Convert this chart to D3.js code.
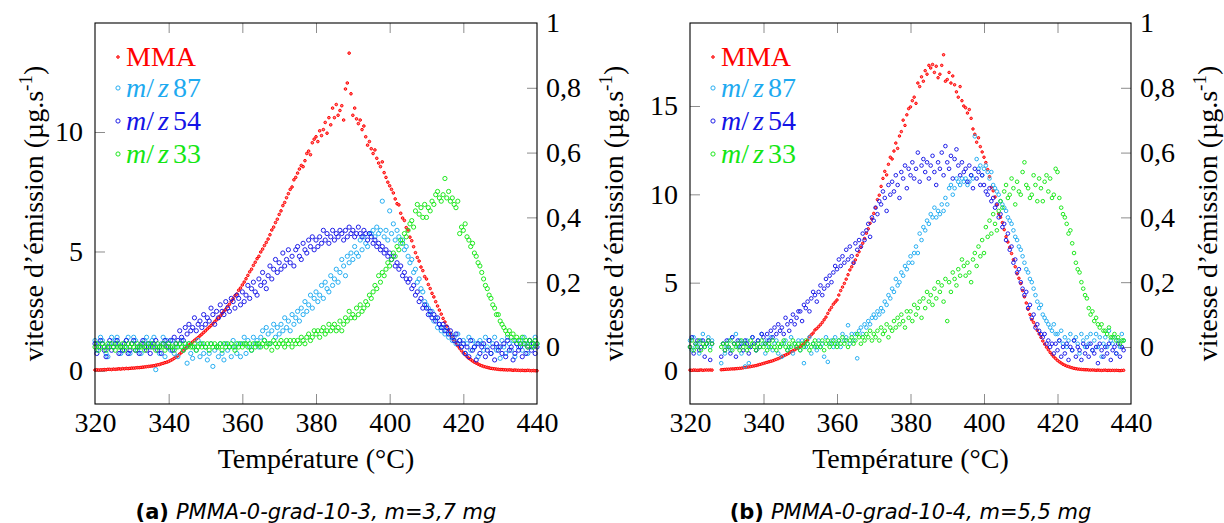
<!DOCTYPE html>
<html><head><meta charset="utf-8">
<script src="https://cdn.jsdelivr.net/npm/d3@7"></script>
<style>body{margin:0;background:#fff} svg{display:block}</style>
</head><body>
<svg id="c" width="1224" height="523"></svg>
<script>
// ---------- data ----------
const xTicks = [320,340,360,380,400,420,440];
const rightTicks = [0,0.2,0.4,0.6,0.8,1];
const rightTickLabels = ["0","0,2","0,4","0,6","0,8","1"];
const leftTicksA = [0,5,10];
const leftTicksB = [0,5,10,15];
const legendLabels = ["MMA","87","54","33"];
const captions = [["(a)","PMMA-0-grad-10-3, m=3,7 mg"],["(b)","PMMA-0-grad-10-4, m=5,5 mg"]];
const tStart = 320, tStep = 0.5;

// panel (a), left axis (µg/s)
const mmaA = [
0.04,0.05,0.04,0.05,0.05,0.06,0.05,0.07,0.07,0.06,
0.08,0.07,0.08,0.09,0.08,0.10,0.09,0.11,0.10,0.11,
0.12,0.12,0.13,0.14,0.14,0.15,0.16,0.17,0.18,0.19,
0.20,0.21,0.22,0.24,0.26,0.27,0.30,0.32,0.35,0.37,
0.40,0.44,0.48,0.53,0.58,0.64,0.71,0.78,0.85,0.93,
1.00,1.08,1.15,1.21,1.28,1.34,1.40,1.47,1.54,1.61,
1.68,1.76,1.83,1.90,1.98,2.06,2.14,2.22,2.30,2.40,
2.50,2.58,2.70,2.79,2.92,3.02,3.15,3.22,3.38,3.47,
3.60,3.72,3.86,4.00,4.15,4.26,4.42,4.55,4.70,4.80,
4.98,5.10,5.25,5.38,5.52,5.70,5.90,6.02,6.21,6.35,
6.55,6.70,6.92,7.05,7.25,7.42,7.60,7.70,8.00,8.10,
8.28,8.45,8.60,8.55,8.80,9.10,9.20,9.05,9.55,9.70,
9.80,9.60,10.05,9.85,10.10,10.40,9.95,10.60,10.30,11.00,
10.60,11.15,10.70,10.90,11.10,10.50,11.80,12.05,13.30,11.60,
10.70,11.00,10.55,10.35,10.50,10.10,10.25,9.80,9.45,9.60,
9.30,9.10,9.25,8.90,8.70,8.55,8.75,8.30,8.10,7.90,
7.75,7.60,7.45,7.20,7.00,6.95,6.60,6.40,6.30,6.00,
5.90,5.60,5.45,5.20,4.95,4.75,4.60,4.35,4.20,3.95,
3.85,3.62,3.45,3.25,3.10,2.90,2.72,2.55,2.38,2.20,
2.05,1.88,1.72,1.58,1.45,1.30,1.18,1.05,0.95,0.85,
0.75,0.68,0.60,0.53,0.48,0.42,0.37,0.33,0.29,0.25,
0.22,0.19,0.17,0.15,0.13,0.11,0.10,0.09,0.08,0.07,
0.06,0.06,0.05,0.05,0.04,0.05,0.04,0.03,0.04,0.03,
0.03,0.02,0.03,0.02,0.02,0.03,0.02,0.01,0.02,0.01,
0.01];
// panel (a), right axis
const mz87A = [
0.02,-0.01,0.01,0.03,0.02,0.00,-0.02,-0.03,0.01,0.03,
0.00,0.02,0.03,0.01,-0.02,-0.01,0.00,0.02,0.03,-0.02,
0.01,0.03,0.02,-0.01,0.00,-0.02,0.01,0.02,0.03,0.00,
0.01,0.02,0.03,-0.07,0.00,-0.02,0.01,0.03,-0.03,0.02,
0.01,-0.01,0.02,-0.02,0.00,-0.03,0.01,0.02,-0.01,0.00,
-0.05,0.01,-0.02,-0.035,0.00,-0.01,0.02,-0.03,0.01,-0.02,
0.00,-0.04,-0.02,0.01,-0.06,-0.01,0.00,-0.03,0.01,-0.02,
-0.04,0.01,-0.01,0.00,-0.03,0.02,0.00,-0.02,0.01,-0.03,
0.01,0.03,-0.02,0.02,0.00,-0.01,0.03,0.01,0.02,0.00,
0.03,0.05,0.02,0.06,0.04,0.01,0.05,0.07,0.03,0.06,
0.04,0.07,0.05,0.09,0.06,0.08,0.05,0.10,0.07,0.09,
0.11,0.08,0.12,0.10,0.14,0.11,0.13,0.16,0.12,0.15,
0.17,0.14,0.16,0.19,0.15,0.20,0.18,0.17,0.22,0.19,
0.21,0.24,0.20,0.23,0.27,0.25,0.22,0.28,0.26,0.29,
0.27,0.31,0.29,0.28,0.33,0.30,0.34,0.32,0.31,0.35,
0.35,0.36,0.34,0.37,0.35,0.36,0.45,0.34,0.36,0.33,
0.42,0.35,0.38,0.33,0.36,0.34,0.32,0.33,0.30,0.31,
0.28,0.26,0.27,0.23,0.24,0.20,0.21,0.18,0.17,0.14,
0.13,0.12,0.10,0.11,0.08,0.09,0.06,0.07,0.05,0.06,
0.04,0.05,0.03,0.04,0.02,0.03,0.01,0.04,0.02,0.00,
0.02,-0.02,0.01,0.03,-0.01,0.02,0.00,0.01,-0.03,0.02,
0.01,-0.01,0.03,0.00,0.02,-0.02,0.01,0.03,-0.01,0.00,
-0.035,0.02,0.00,-0.02,0.03,0.01,-0.01,0.02,-0.03,0.01,
0.00,0.02,-0.01,0.03,0.01,-0.02,0.02,0.00,0.01,0.03,
0.01];
const mz54A = [
0.01,-0.02,0.00,0.02,0.01,-0.01,-0.03,0.00,0.02,-0.01,
0.00,0.01,0.02,-0.02,0.00,-0.01,0.01,0.02,-0.02,-0.01,
0.01,0.02,-0.01,0.00,-0.02,0.01,0.02,0.00,-0.01,0.01,
-0.02,0.00,0.01,0.02,-0.01,0.00,-0.02,0.01,0.02,0.00,
0.00,0.02,-0.01,0.03,0.01,0.02,0.05,0.03,0.02,0.06,
0.04,0.07,0.05,0.06,0.09,0.05,0.07,0.08,0.06,0.10,
0.07,0.09,0.08,0.12,0.10,0.07,0.11,0.09,0.13,0.11,
0.10,0.14,0.12,0.11,0.15,0.14,0.12,0.16,0.15,0.13,
0.17,0.14,0.16,0.19,0.15,0.18,0.20,0.17,0.16,0.21,
0.19,0.23,0.20,0.18,0.22,0.25,0.21,0.24,0.27,0.23,
0.26,0.24,0.29,0.25,0.27,0.30,0.26,0.28,0.25,0.30,
0.31,0.28,0.27,0.32,0.30,0.29,0.33,0.31,0.34,0.30,
0.33,0.31,0.34,0.32,0.36,0.33,0.35,0.32,0.34,0.36,
0.33,0.35,0.34,0.36,0.35,0.33,0.36,0.34,0.37,0.35,
0.36,0.34,0.35,0.37,0.35,0.34,0.36,0.35,0.33,0.35,
0.34,0.32,0.33,0.31,0.32,0.30,0.31,0.29,0.30,0.28,
0.29,0.27,0.28,0.25,0.26,0.24,0.25,0.22,0.23,0.21,
0.20,0.21,0.18,0.19,0.16,0.17,0.14,0.15,0.12,0.13,
0.12,0.10,0.11,0.09,0.10,0.08,0.09,0.07,0.06,0.07,
0.05,0.06,0.04,0.05,0.03,0.02,0.04,0.01,0.02,0.00,
0.01,-0.02,0.00,-0.03,0.02,-0.01,0.00,-0.04,0.01,-0.02,
0.00,0.01,-0.03,-0.01,0.02,-0.02,0.00,-0.04,0.01,-0.01,
0.00,-0.02,0.01,-0.03,0.02,-0.01,0.00,-0.04,-0.02,0.01,
-0.01,0.00,-0.03,0.01,-0.02,0.00,0.02,-0.01,0.01,-0.02,
0.00];
const mz33A = [
0.00,0.01,-0.01,0.00,0.01,0.00,-0.01,0.01,0.00,0.01,
0.00,-0.01,0.01,0.00,0.00,0.01,-0.01,0.00,0.01,0.00,
0.01,0.00,-0.01,0.01,0.00,0.00,0.01,-0.01,0.00,0.01,
0.00,0.01,0.00,-0.01,0.01,0.00,0.00,0.01,-0.01,0.00,
0.01,0.00,0.00,-0.01,0.01,0.00,0.01,0.00,-0.01,0.01,
0.00,0.01,0.00,0.00,0.01,-0.01,0.00,0.01,0.00,0.01,
0.00,0.01,-0.01,0.01,0.00,0.01,0.00,0.00,0.01,-0.01,
0.01,0.00,0.01,0.00,0.01,0.00,-0.01,0.01,0.00,0.01,
0.00,0.01,0.01,0.00,0.01,-0.01,0.01,0.00,0.01,0.01,
0.00,0.01,0.02,0.00,0.01,0.01,-0.01,0.02,0.01,0.00,
0.01,0.02,0.01,0.00,0.02,0.01,0.02,0.00,0.02,0.01,
0.02,0.01,0.03,0.02,0.01,0.03,0.04,0.02,0.03,0.05,
0.04,0.05,0.03,0.05,0.06,0.04,0.05,0.07,0.05,0.06,
0.07,0.05,0.06,0.08,0.05,0.07,0.09,0.08,0.11,0.09,
0.10,0.09,0.12,0.10,0.13,0.11,0.12,0.14,0.13,0.16,
0.15,0.17,0.19,0.18,0.22,0.20,0.23,0.22,0.24,0.26,
0.25,0.27,0.29,0.28,0.31,0.30,0.33,0.32,0.35,0.34,
0.36,0.38,0.39,0.37,0.42,0.44,0.41,0.43,0.40,0.44,
0.40,0.43,0.42,0.45,0.44,0.47,0.48,0.46,0.45,0.47,
0.52,0.46,0.48,0.45,0.46,0.44,0.43,0.45,0.35,0.37,
0.36,0.38,0.34,0.33,0.31,0.32,0.29,0.28,0.26,0.25,
0.23,0.21,0.19,0.18,0.16,0.15,0.13,0.12,0.10,0.10,
0.08,0.07,0.06,0.05,0.04,0.05,0.03,0.04,0.02,0.03,
0.02,0.01,0.03,0.01,0.02,0.00,0.02,0.01,0.00,0.02,
0.01];

// panel (b), left axis (µg/s)
const mmaB = [
0.05,0.04,0.06,0.05,0.04,0.05,0.06,0.04,0.05,0.06,
0.05,0.06,0.05,null,null,null,null,0.07,0.08,0.09,
0.10,0.10,0.11,0.12,0.12,0.13,0.14,0.15,0.16,0.18,
0.20,0.22,0.23,0.25,0.27,0.29,0.31,0.34,0.37,0.40,
0.43,0.46,0.49,0.52,0.55,0.58,0.62,0.66,0.70,0.75,
0.81,0.86,0.91,0.96,1.02,1.09,1.14,1.20,1.27,1.32,
1.37,1.46,1.56,1.65,1.75,1.94,2.05,2.15,2.32,2.40,
2.51,2.62,2.75,2.90,3.05,3.26,3.45,3.60,3.78,3.90,
4.02,4.30,4.55,4.75,4.96,5.20,5.45,5.72,5.90,6.10,
6.29,6.55,6.75,7.00,7.23,7.50,7.80,8.05,8.36,8.60,
8.92,9.25,9.70,9.95,10.45,10.90,11.30,11.10,11.70,12.10,
12.00,12.45,12.90,12.60,13.30,13.55,14.20,13.90,14.50,14.85,
14.95,15.30,15.50,15.15,16.30,16.10,16.65,16.40,17.00,16.80,
17.30,17.15,17.35,16.90,17.25,16.60,16.80,17.30,17.90,16.40,
16.50,16.90,16.30,16.70,16.20,15.80,15.50,16.10,15.30,15.00,
14.90,14.60,14.80,14.30,13.70,13.40,12.95,13.20,12.70,12.40,
12.10,11.80,11.40,11.00,10.40,10.20,9.85,9.40,8.90,8.70,
8.40,8.00,7.60,7.30,7.00,6.65,6.30,5.90,5.50,5.25,
4.95,4.55,4.20,3.85,3.50,3.20,2.90,2.75,2.55,2.30,
2.10,1.90,1.70,1.52,1.35,1.20,1.05,0.92,0.80,0.70,
0.60,0.52,0.45,0.38,0.33,0.28,0.25,0.21,0.18,0.15,
0.13,0.11,0.10,0.09,0.08,0.07,0.07,0.06,0.05,0.06,
0.05,0.04,0.05,0.04,0.03,0.04,0.05,0.03,0.04,0.03,
0.04,0.03,0.04,0.03,0.02,0.03,0.04];
// panel (b), right axis
const mz87B = [
0.02,-0.01,0.03,0.00,0.01,-0.02,0.02,0.04,0.00,0.01,
0.03,0.00,0.02,null,null,null,null,-0.05,0.01,-0.02,
0.00,0.02,-0.01,0.03,0.01,0.04,0.00,0.02,-0.02,0.01,
-0.06,0.02,-0.05,0.00,0.03,0.01,-0.01,0.02,0.00,0.04,
0.01,-0.02,0.02,0.00,0.03,-0.01,0.01,0.02,-0.02,0.00,
-0.03,0.01,0.02,-0.01,0.00,0.03,-0.02,0.01,0.00,0.02,
-0.01,0.02,-0.05,0.00,0.01,0.03,-0.02,0.01,0.00,-0.01,
0.02,0.00,0.01,-0.03,0.03,-0.046,0.01,0.02,0.00,0.03,
0.01,0.02,0.00,0.04,0.02,0.03,0.067,0.01,0.04,0.02,
0.04,-0.035,0.05,0.06,0.04,0.07,0.06,0.08,0.07,0.09,
0.10,0.09,0.11,0.10,0.12,0.11,0.14,0.13,0.16,0.15,
0.18,0.17,0.21,0.19,0.20,0.23,0.22,0.25,0.24,0.26,
0.28,0.26,0.29,0.31,0.29,0.35,0.33,0.37,0.36,0.39,
0.38,0.41,0.40,0.43,0.40,0.42,0.41,0.44,0.42,0.46,
0.44,0.49,0.50,0.47,0.49,0.52,0.51,0.50,0.52,0.51,
0.52,0.50,0.51,0.53,0.52,0.65,0.58,0.55,0.56,0.53,
0.55,0.56,0.54,0.52,0.54,0.50,0.49,0.48,0.47,0.45,
0.44,0.43,0.42,0.40,0.39,0.38,0.36,0.34,0.33,0.31,
0.30,0.28,0.26,0.24,0.23,0.21,0.20,0.18,0.16,0.14,
0.12,0.13,0.10,0.09,0.08,0.07,0.06,0.05,0.07,0.04,
0.04,0.02,0.05,0.01,0.03,0.00,0.02,0.04,-0.01,0.02,
0.03,0.01,-0.02,0.04,0.02,0.00,0.03,0.01,0.04,-0.01,
0.02,0.04,0.00,0.03,-0.03,0.01,0.03,0.00,0.05,0.02,
0.01,0.03,-0.02,0.02,0.00,0.04,0.02];
const mz54B = [
0.00,0.03,-0.02,0.01,0.02,-0.01,0.00,0.02,-0.03,0.01,
0.02,-0.04,0.01,null,null,null,null,-0.03,0.01,-0.01,
0.02,0.00,-0.02,0.03,0.01,-0.03,0.02,0.00,0.01,-0.01,
0.02,0.01,-0.02,0.00,0.03,0.01,-0.01,0.02,0.00,0.04,
0.03,0.01,0.04,0.02,0.05,0.03,0.06,0.04,0.07,0.05,
0.06,0.04,0.09,0.07,0.05,0.08,0.10,0.07,0.09,0.11,
0.11,0.08,0.13,0.12,0.14,0.11,0.15,0.17,0.16,0.14,
0.17,0.19,0.16,0.18,0.21,0.19,0.22,0.20,0.23,0.25,
0.24,0.27,0.25,0.28,0.26,0.30,0.27,0.31,0.28,0.26,
0.32,0.30,0.33,0.31,0.35,0.33,0.36,0.38,0.34,0.40,
0.39,0.43,0.41,0.45,0.44,0.48,0.46,0.42,0.50,0.47,
0.51,0.48,0.53,0.50,0.46,0.54,0.52,0.56,0.49,0.55,
0.53,0.57,0.52,0.55,0.60,0.51,0.56,0.58,0.54,0.57,
0.52,0.56,0.59,0.54,0.50,0.57,0.55,0.60,0.53,0.62,
0.57,0.55,0.59,0.52,0.58,0.61,0.56,0.53,0.57,0.54,
0.55,0.51,0.56,0.53,0.49,0.55,0.52,0.54,0.50,0.53,
0.50,0.48,0.47,0.49,0.45,0.46,0.43,0.44,0.40,0.41,
0.37,0.38,0.33,0.35,0.30,0.31,0.26,0.27,0.23,0.24,
0.20,0.18,0.16,0.17,0.12,0.13,0.09,0.10,0.06,0.07,
0.05,0.04,0.03,0.04,0.01,0.02,0.00,0.01,-0.02,0.01,
-0.01,0.02,-0.03,0.00,-0.02,0.01,-0.04,0.00,-0.01,0.02,
-0.03,0.00,-0.01,-0.04,0.01,-0.02,0.00,-0.03,0.01,-0.01,
-0.02,0.00,-0.05,0.01,-0.01,-0.03,0.00,-0.02,0.01,-0.04,
-0.01,0.00,-0.02,0.01,-0.03,0.00,-0.01];
const mz33B = [
0.00,0.02,-0.01,0.01,0.00,0.02,-0.01,0.01,0.00,0.01,
0.02,-0.01,0.01,null,null,null,null,0.00,0.01,-0.01,
0.01,0.00,0.02,-0.01,0.01,0.00,0.01,-0.01,0.02,0.00,
0.01,-0.01,0.00,0.02,0.01,0.00,-0.01,0.01,0.00,0.02,
0.00,0.01,-0.01,0.01,0.00,0.02,0.00,-0.01,0.01,0.00,
0.01,0.02,0.00,-0.01,0.01,0.00,0.02,0.01,0.00,0.01,
-0.01,0.01,0.00,0.02,0.01,-0.01,0.00,0.01,0.02,0.00,
0.01,0.00,0.02,-0.01,0.01,0.02,0.00,0.01,0.02,0.01,
0.00,0.02,0.01,0.03,0.01,0.02,0.00,0.02,0.03,0.01,
0.02,0.04,0.03,0.01,0.03,0.02,0.04,0.03,0.05,0.02,
0.04,0.03,0.05,0.02,0.06,0.04,0.05,0.07,0.03,0.06,
0.05,0.08,0.06,0.09,0.07,0.10,0.08,0.06,0.11,0.09,
0.11,0.08,0.13,0.10,0.12,0.14,0.09,0.15,0.12,0.17,
0.14,0.16,0.13,0.18,0.15,0.20,0.17,0.19,0.14,0.21,
0.08,0.20,0.17,0.23,0.21,0.19,0.24,0.22,0.27,0.25,
0.22,0.26,0.23,0.20,0.27,0.29,0.25,0.31,0.28,0.33,
0.29,0.37,0.34,0.39,0.35,0.41,0.38,0.36,0.42,0.45,
0.43,0.48,0.50,0.46,0.47,0.52,0.49,0.44,0.51,0.48,
0.47,0.54,0.57,0.50,0.49,0.46,0.47,0.53,0.50,0.45,
0.52,0.49,0.45,0.51,0.53,0.48,0.52,0.46,0.47,0.55,
0.54,0.46,0.43,0.41,0.40,0.38,0.35,0.36,0.32,0.29,
0.26,0.24,0.23,0.20,0.18,0.16,0.15,0.12,0.10,0.11,
0.08,0.09,0.07,0.06,0.07,0.05,0.05,0.04,0.06,0.03,
0.03,0.04,0.02,0.03,0.01,0.02,0.02];

// ---------- styles ----------
const colors = {mma:"#ff0000", m87:"#1eaaf0", m54:"#1414e6", m33:"#14e614"};
const serif = "'Liberation Serif', 'Times New Roman', serif";
const fs = 28;

const panels = [
  {left:95, right:537, top:23, bottom:404, yL:[-1.381,14.561], leftTicks:leftTicksA,
   data:{mma:mmaA, m87:mz87A, m54:mz54A, m33:mz33A}, cap:captions[0], r:2.1, rm:1.3, leftLabel:true},
  {left:690, right:1131, top:23, bottom:404, yL:[-1.868,19.698], leftTicks:leftTicksB,
   data:{mma:mmaB, m87:mz87B, m54:mz54B, m33:mz33B}, cap:captions[1], r:1.8, rm:1.25, leftLabel:false}
];

const svg = d3.select("#c");
svg.append("rect").attr("width",1224).attr("height",523).attr("fill","#fff");

function toPoints(vals){
  return vals.map((v,i)=>({t:tStart+i*tStep, v:v})).filter(d=>d.v!==null && d.v!==undefined);
}

function yTitle(g, cx, cy){
  const t = g.append("text").attr("transform",`translate(${cx},${cy}) rotate(-90)`)
    .attr("text-anchor","middle").attr("dy","0.35em")
    .attr("font-family",serif).attr("font-size",fs).attr("fill","#000");
  t.append("tspan").text("vitesse d\u2019émission (µg.s");
  t.append("tspan").attr("font-size",fs*0.68).attr("dy",-11).text("-1");
  t.append("tspan").attr("dy",11).text(")");
}

panels.forEach((p,pi)=>{
  const g = svg.append("g");
  const x = d3.scaleLinear().domain([320,440]).range([p.left,p.right]);
  const yL = d3.scaleLinear().domain(p.yL).range([p.bottom,p.top]);
  const yR = d3.scaleLinear().domain([-0.176,1]).range([p.bottom,p.top]);

  const tickCol = "#8c8c8c";
  const inner = xTicks.filter(t=>t>320 && t<440);
  const ax = [
    g.append("g").attr("transform",`translate(0,${p.bottom})`)
      .call(d3.axisBottom(x).tickValues(xTicks).tickSizeInner(-10).tickSizeOuter(0).tickPadding(8).tickFormat(d3.format("d"))),
    g.append("g").attr("transform",`translate(0,${p.top})`)
      .call(d3.axisTop(x).tickValues(inner).tickSizeInner(-10).tickSizeOuter(0).tickFormat("")),
    g.append("g").attr("transform",`translate(${p.left},0)`)
      .call(d3.axisLeft(yL).tickValues(p.leftTicks).tickSizeInner(-10).tickSizeOuter(0).tickPadding(12).tickFormat(d3.format("d"))),
    g.append("g").attr("transform",`translate(${p.right},0)`)
      .call(d3.axisRight(yR).tickValues(rightTicks).tickSizeInner(-10).tickSizeOuter(0).tickPadding(9)
        .tickFormat((d,i)=>rightTickLabels[i]))
  ];
  ax.forEach(a=>{
    a.select(".domain").remove();
    a.selectAll(".tick line").attr("stroke",tickCol).attr("stroke-width",1);
    a.selectAll("text").attr("font-family",serif).attr("font-size",fs).attr("fill","#000");
  });
  ax[0].selectAll(".tick").filter(d=>d===320||d===440).select("line").remove();
  ax[3].selectAll(".tick").filter(d=>d===1).select("line").remove();

  const plot = g.append("g");
  const order = [["mma",yL],["m87",yR],["m54",yR],["m33",yR]];
  order.forEach(([k,ys])=>{
    plot.append("g").selectAll("circle").data(toPoints(p.data[k])).join("circle")
      .attr("cx",d=>x(d.t)).attr("cy",d=>ys(d.v))
      .attr("r", k==="mma" ? p.rm : p.r)
      .attr("fill", k==="mma" ? "#ff8080" : "none")
      .attr("stroke",colors[k]).attr("stroke-width", k==="mma"?1.0:0.95);
  });

  g.append("rect").attr("x",p.left).attr("y",p.top)
    .attr("width",p.right-p.left).attr("height",p.bottom-p.top)
    .attr("fill","none").attr("stroke","#000").attr("stroke-width",1.1);

  const keys = ["mma","m87","m54","m33"];
  const rowsY = [57, 88, 121, 154];
  keys.forEach((k,i)=>{
    const lx = p.left+23, ly = rowsY[i];
    g.append("circle").attr("cx",lx).attr("cy",ly).attr("r", k==="mma"?1.3:2.1)
      .attr("fill", k==="mma" ? "#ff8080" : "none").attr("stroke",colors[k]).attr("stroke-width",0.95);
    const t = g.append("text").attr("x",lx+8).attr("y",ly+9)
      .attr("font-family",serif).attr("font-size",fs).attr("fill",colors[k]);
    if(k==="mma"){ t.text(legendLabels[0]); }
    else {
      t.append("tspan").attr("font-style","italic").text("m");
      t.append("tspan").text("/");
      t.append("tspan").attr("font-style","italic").attr("dx",4).text("z");
      t.append("tspan").attr("dx",4).text(legendLabels[i]);
    }
  });

  g.append("text").attr("x",(p.left+p.right)/2).attr("y",468).attr("text-anchor","middle")
    .attr("font-family",serif).attr("font-size",fs).attr("fill","#000").text("Température (°C)");

  const cy = (p.top+p.bottom)/2;
  if(p.leftLabel) yTitle(g, p.left-62, cy);
  yTitle(g, p.right+76, cy);

  const c = g.append("text").attr("x",(p.left+p.right)/2).attr("y",519).attr("text-anchor","middle")
    .attr("font-family","'DejaVu Sans', sans-serif").attr("font-size",21).attr("fill","#000");
  c.append("tspan").attr("font-weight","bold").text(p.cap[0]);
  c.append("tspan").attr("font-style","italic").attr("dx",7).text(p.cap[1]);
});
</script>
</body></html>
